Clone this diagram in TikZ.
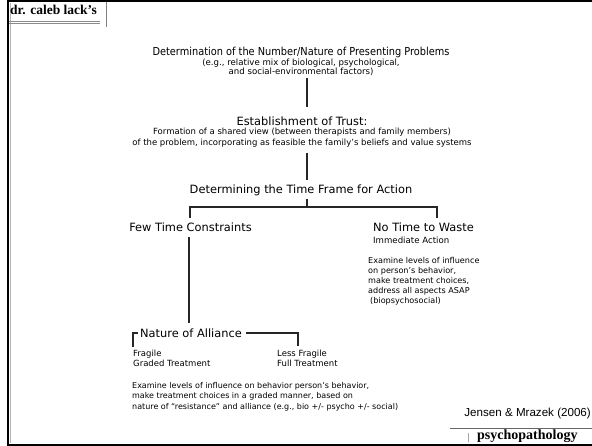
\documentclass[tikz,border=0pt]{standalone}
\usepackage{fontspec}
\usepackage{graphicx}
\setmainfont{DejaVu Sans}
\newfontfamily\serifbold{Liberation Serif}
\newfontfamily\arialfont{Liberation Sans}
\usetikzlibrary{calc}
\tikzset{
  head/.style={inner sep=0pt, font=\fontsize{11.4}{13}\selectfont},
  sub/.style={inner sep=0pt, align=center, font=\fontsize{8.6}{9}\selectfont},
  para/.style={inner sep=0pt, align=left, font=\fontsize{8.1}{10}\selectfont},
  conn/.style={line width=1.5pt, draw=black!85},
  frame/.style={line width=2.5pt, draw=black},
}
\begin{document}
\begin{tikzpicture}[x=1pt,y=-1pt]
\useasboundingbox (0,0) rectangle (592,446);
\fill[white] (0,0) rectangle (592,446);
% frame
\draw[frame] (8,0) -- (8,446);
\draw[frame] (7,0.8) -- (592,0.8);
\draw[frame] (7,444.8) -- (592,444.8);
\draw[black!30, line width=0.6pt] (10.5,3) -- (10.5,443);
% header
\node[inner sep=0pt, anchor=west, font=\serifbold\bfseries\fontsize{13.5}{14}\selectfont] (hdr) at (10,10) {dr. caleb lack’s};
\draw[black!45, line width=0.7pt] (9,21.5) -- (100,21.5);
\draw[black!45, line width=0.5pt] (9,23.2) -- (100,23.2);
\draw[black!50, line width=1pt] (106,2) -- (106,27);
% main flow
\node[head, font=\fontsize{11}{13}\selectfont] (title) at (301,52) {\scalebox{0.89}[1]{Determination of the Number/Nature of Presenting Problems}};
\node[sub] (titlesub) at (301,67.5) {(e.g., relative mix of biological, psychological,\\and social-environmental factors)};
\node[head] (trust) at (302,121) {Establishment of Trust:};
\node[sub, font=\fontsize{8.5}{11}\selectfont] (trustsub) at (302,138) {Formation of a shared view (between therapists and family members)\\of the problem, incorporating as feasible the family’s beliefs and value systems};
\node[head] (frame) at (301,190) {Determining the Time Frame for Action};
\node[head] (few) at (190.5,227) {Few Time Constraints};
\node[head, anchor=west] (notime) at (373,227) {No Time to Waste};
\node[sub, anchor=west] (immed) at (373,240) {Immediate Action};
\node[para, anchor=north west] (rpara) at (368,257) {Examine levels of influence\\on person’s behavior,\\make treatment choices,\\address all aspects ASAP\\\hspace{2pt}(biopsychosocial)};
\node[head, anchor=west] (alliance) at (140,333) {Nature of Alliance};
\node[sub, anchor=west, align=left, font=\fontsize{8.5}{10}\selectfont] (fragile) at (133,358) {Fragile\\Graded Treatment};
\node[sub, anchor=west, align=left, font=\fontsize{8.5}{10}\selectfont] (lessfragile) at (277,358) {Less Fragile\\Full Treatment};
\node[para, anchor=north west, font=\fontsize{8}{10.5}\selectfont] (bpara) at (132,382) {Examine levels of influence on behavior person’s behavior,\\make treatment choices in a graded manner, based on\\nature of “resistance” and alliance (e.g., bio +/- psycho +/- social)};
\node[inner sep=0pt, anchor=east, font=\arialfont\fontsize{11.6}{12}\selectfont] (cite) at (591,413) {Jensen \& Mrazek (2006)};
\node[inner sep=0pt, anchor=west, font=\serifbold\bfseries\fontsize{14}{14}\selectfont] (psy) at (477,436.5) {psychopathology};
\node[inner sep=0pt, anchor=east, font=\serifbold\fontsize{10}{10}\selectfont, text=black!70] (bar) at (470,438) {|};
\draw[black!60, line width=0.8pt] (450,428) -- (592,428);
% connectors
\coordinate (c1a) at (307,78);
\coordinate (c1b) at (307,107);
\draw[conn] (c1a) -- (c1b);
\coordinate (c2a) at (307,153);
\coordinate (c2b) at (307,180);
\draw[conn] (c2a) -- (c2b);
\coordinate (br) at (307,199);
\coordinate (brL) at (190,218);
\coordinate (brR) at (437,218);
\draw[conn] (br) -- (br |- 0,207);
\draw[conn] (brL) -- (brL |- 0,207) -- (brR |- 0,207) -- (brR);
\coordinate (fewdown) at (189,237);
\coordinate (fewend) at (189,323);
\draw[conn] (fewdown) -- (fewend);
% alliance bracket
\draw[conn] (133,347) -- (133,333) -- ([xshift=-2pt]alliance.west);
\draw[conn] ([xshift=4pt]alliance.east) -- (298,333) -- (298,346);
\end{tikzpicture}
\end{document}
